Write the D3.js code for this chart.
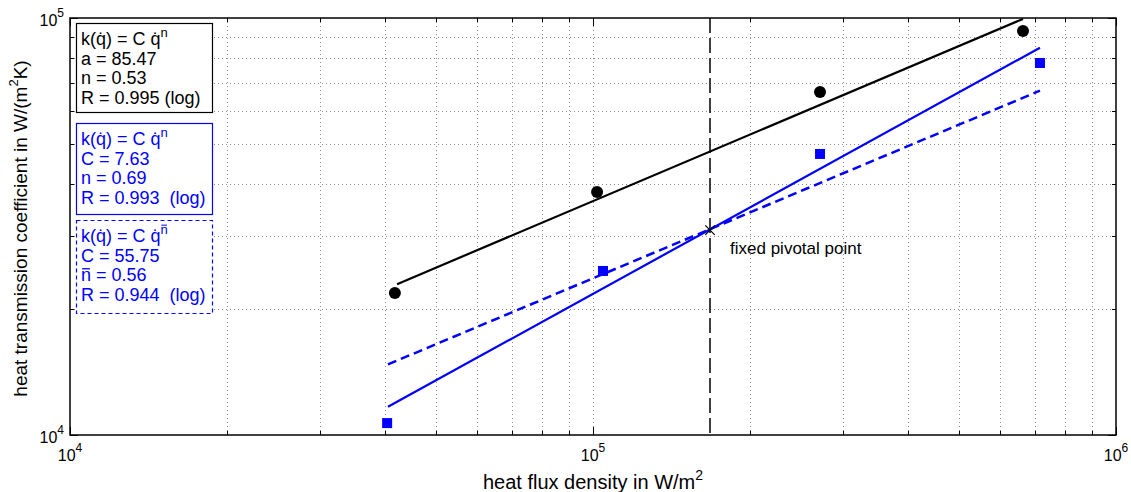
<!DOCTYPE html>
<html>
<head>
<meta charset="utf-8">
<script src="https://cdn.jsdelivr.net/npm/d3@7"></script>
<style>
  body { margin: 0; background: #fff; }
  text { font-family: "Liberation Sans", Arial, sans-serif; white-space: pre; }
</style>
</head>
<body>
<div id="chart"></div>
<script>
// measured points (circles: black series, squares: blue series)
const qCircle = [41800, 101800, 271700, 664000];
const kCircle = [21900, 38250, 66450, 93100];
const qSquare = [40400, 104500, 271700, 715500];
const kSquare = [10680, 24740, 47200, 78000];

// fitted lines, endpoints
const fitBlackQ = [42200, 664000];
const fitBlackK = [23000, 99500];
const fitBlueQ = [40550, 715500];
const fitBlueK = [11690, 84860];
const fitDashQ = [40550, 715500];
const fitDashK = [14770, 66940];

const pivotQ = 167400;
const pivotK = 31000;

const xTickExp = [4, 5, 6];
const yTickExp = [4, 5];

// "|" starts a superscript, "~" marks an n with a bar over it
const legendBlack = ["k(q̇) = C q̇|n", "a = 85.47", "n = 0.53", "R = 0.995 (log)"];
const legendBlue = ["k(q̇) = C q̇|n", "C = 7.63", "n = 0.69", "R = 0.993  (log)"];
const legendDash = ["k(q̇) = C q̇|~n", "C = 55.75", "~n = 0.56", "R = 0.944  (log)"];

const width = 1131, height = 492;
const margin = {left: 70, right: 15, top: 18, bottom: 57};
const blue = "#0000ff";

const svg = d3.select('#chart')
  .append('svg')
  .attr('width', width)
  .attr('height', height);

let x = d3.scaleLog().domain([1e4, 1e6]).range([margin.left, width - margin.right]);
let y = d3.scaleLog().domain([1e4, 1e5]).range([height - margin.bottom, margin.top]);

const x0 = x.range()[0], x1 = x.range()[1];
const y0 = y.range()[0], y1 = y.range()[1];

// minor + major tick values
let xTicks = [];
for (let e = 4; e < 6; e++) for (let m = 1; m < 10; m++) xTicks.push(m * Math.pow(10, e));
xTicks.push(1e6);
let yTicks = [];
for (let m = 1; m < 10; m++) yTicks.push(m * 1e4);
yTicks.push(1e5);

// grid
let grid = svg.append('g').attr('class', 'grid')
  .attr('stroke', '#8a8a8a')
  .attr('stroke-width', 1)
  .attr('stroke-dasharray', '1,3');
grid.selectAll('line.gx')
  .data(xTicks.filter(d => d > 1e4 && d < 1e6))
  .enter().append('line')
  .attr('x1', d => Math.round(x(d)) + 0.5).attr('x2', d => Math.round(x(d)) + 0.5)
  .attr('y1', y1).attr('y2', y0);
grid.selectAll('line.gy')
  .data(yTicks.filter(d => d > 1e4 && d < 1e5))
  .enter().append('line')
  .attr('y1', d => Math.round(y(d)) + 0.5).attr('y2', d => Math.round(y(d)) + 0.5)
  .attr('x1', x0).attr('x2', x1);

// ticks, inside, on all four sides
let ticks = svg.append('g').attr('stroke', '#000').attr('stroke-width', 1);
function isMajor(v) { return Math.abs(Math.log10(v) - Math.round(Math.log10(v))) < 1e-9; }
xTicks.forEach(v => {
  let len = isMajor(v) ? 8 : 4;
  let px = Math.round(x(v)) + 0.5;
  ticks.append('line').attr('x1', px).attr('x2', px).attr('y1', y0).attr('y2', y0 - len);
  ticks.append('line').attr('x1', px).attr('x2', px).attr('y1', y1).attr('y2', y1 + len);
});
yTicks.forEach(v => {
  let len = isMajor(v) ? 8 : 4;
  let py = Math.round(y(v)) + 0.5;
  ticks.append('line').attr('y1', py).attr('y2', py).attr('x1', x0).attr('x2', x0 + len);
  ticks.append('line').attr('y1', py).attr('y2', py).attr('x1', x1).attr('x2', x1 - len);
});

// frame
svg.append('rect')
  .attr('x', x0).attr('y', y1)
  .attr('width', x1 - x0).attr('height', y0 - y1)
  .attr('fill', 'none').attr('stroke', '#000').attr('stroke-width', 1.5);

// tick labels
xTickExp.forEach(e => {
  let t = svg.append('text')
    .attr('x', x(Math.pow(10, e)))
    .attr('y', y0 + 26)
    .attr('text-anchor', 'middle')
    .style('font-size', '16px');
  t.append('tspan').text('10');
  t.append('tspan').attr('dy', -9).style('font-size', '12px').text(e);
});
yTickExp.forEach(e => {
  let t = svg.append('text')
    .attr('x', x0 - 6)
    .attr('y', y(Math.pow(10, e)) + 8)
    .attr('text-anchor', 'end')
    .style('font-size', '16px');
  t.append('tspan').text('10');
  t.append('tspan').attr('dy', -9).style('font-size', '12px').text(e);
});

// axis titles
let xt = svg.append('text')
  .attr('x', x(1e5))
  .attr('y', 489)
  .attr('text-anchor', 'middle')
  .style('font-size', '20px');
xt.append('tspan').text('heat flux density in W/m');
xt.append('tspan').attr('dy', -9).style('font-size', '14px').text('2');

let yt = svg.append('text')
  .attr('transform', 'translate(27,' + ((y0 + y1) / 2 + 2) + ') rotate(-90)')
  .attr('text-anchor', 'middle')
  .style('font-size', '19px');
yt.append('tspan').text('heat transmission coefficient in W/(m');
yt.append('tspan').attr('dy', -9).style('font-size', '13px').text('2');
yt.append('tspan').attr('dy', 9).text('K)');

// vertical pivot line
svg.append('line')
  .attr('x1', Math.round(x(pivotQ))).attr('x2', Math.round(x(pivotQ)))
  .attr('y1', y1).attr('y2', y0)
  .attr('stroke', '#000').attr('stroke-width', 1.5)
  .attr('stroke-dasharray', '15,5');

// fit lines
let line = d3.line().x(d => x(d[0])).y(d => y(d[1]));
svg.append('path')
  .datum(d3.zip(fitBlackQ, fitBlackK))
  .attr('d', line).attr('fill', 'none')
  .attr('stroke', '#000').attr('stroke-width', 2.2);
svg.append('path')
  .datum(d3.zip(fitBlueQ, fitBlueK))
  .attr('d', line).attr('fill', 'none')
  .attr('stroke', blue).attr('stroke-width', 2.2);
svg.append('path')
  .datum(d3.zip(fitDashQ, fitDashK))
  .attr('d', line).attr('fill', 'none')
  .attr('stroke', blue).attr('stroke-width', 2.5)
  .attr('stroke-dasharray', '9,5');

// markers
svg.selectAll('circle.pt')
  .data(d3.zip(qCircle, kCircle))
  .enter().append('circle')
  .attr('cx', d => x(d[0])).attr('cy', d => y(d[1]))
  .attr('r', 6).attr('fill', '#000');
svg.selectAll('rect.pt')
  .data(d3.zip(qSquare, kSquare))
  .enter().append('rect')
  .attr('x', d => x(d[0]) - 5).attr('y', d => y(d[1]) - 5)
  .attr('width', 10).attr('height', 10).attr('fill', blue);

// pivot marker
svg.append('path')
  .attr('transform', 'translate(' + x(pivotQ) + ',' + y(pivotK) + ')')
  .attr('d', d3.symbol(d3.symbolTimes, 60)())
  .attr('fill', 'none').attr('stroke', '#000').attr('stroke-width', 1.2);
svg.append('text')
  .attr('x', x(pivotQ) + 20).attr('y', y(pivotK) + 24)
  .style('font-size', '17px')
  .text('fixed pivotal point');

// writes a piece of text; "~n" becomes n with a bar drawn over it
function addPiece(g, t, s, size, dy, color) {
  let shift = dy || 0;
  s.split(/(~n)/).forEach(p => {
    if (!p) return;
    let ts = t.append('tspan').attr('dy', shift).style('font-size', size + 'px')
      .text(p === '~n' ? 'n' : p);
    shift = 0;
    if (p === '~n') {
      let node = ts.node();
      let start = node.getStartPositionOfChar(0);
      let w = node.getComputedTextLength();
      let by = start.y - size * 0.68;
      g.append('line')
        .attr('x1', start.x + size * 0.06).attr('x2', start.x + w - size * 0.06)
        .attr('y1', by).attr('y2', by)
        .attr('stroke', color).attr('stroke-width', size > 15 ? 1.3 : 1);
    }
  });
}

// legend boxes
function legendBox(lines, top, bottom, color, dashed) {
  let g = svg.append('g');
  g.append('rect')
    .attr('x', 76.5).attr('y', top + 0.5)
    .attr('width', 136).attr('height', bottom - top)
    .attr('fill', '#fff').attr('stroke', color).attr('stroke-width', 1.2)
    .attr('stroke-dasharray', dashed ? '4,3' : null);
  lines.forEach((s, i) => {
    let t = g.append('text')
      .attr('x', 81).attr('y', top + 22 + i * 19.5)
      .attr('fill', color)
      .style('font-size', '18px');
    let parts = s.split('|');
    addPiece(g, t, parts[0], 18, 0, color);
    if (parts[1]) addPiece(g, t, parts[1], 13, -8, color);
  });
}
legendBox(legendBlack, 23, 112, '#000', false);
legendBox(legendBlue, 123, 214, blue, false);
legendBox(legendDash, 220, 313, blue, true);
</script>
</body>
</html>
